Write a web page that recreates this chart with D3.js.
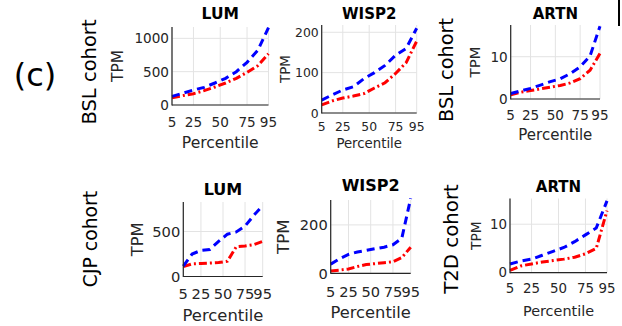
<!DOCTYPE html>
<html>
<head>
<meta charset="utf-8">
<script src="https://cdn.jsdelivr.net/npm/d3@7"></script>
<style>
  body { margin: 0; background: #fff; }
  svg text { font-family: "DejaVu Sans", sans-serif; }
</style>
</head>
<body>
<div id="chart"></div>
<script>
// percentiles sampled on the x axis
var percentiles = [5, 15, 25, 35, 45, 55, 65, 75, 85, 95];
var xTicks = [5, 25, 50, 75, 95];

// BSL cohort
var bslLumBlue   = [130, 175, 225, 265, 330, 400, 500, 640, 820, 1160];
var bslLumRed    = [110, 140, 170, 215, 270, 330, 400, 490, 590, 770];
var bslWisp2Blue = [32, 45, 57, 65, 85, 100, 118, 143, 160, 210];
var bslWisp2Red  = [20, 30, 37, 42, 48, 62, 75, 98, 125, 178];
var bslArtnBlue  = [1.3, 1.9, 2.5, 3.3, 4.1, 4.8, 6.0, 7.6, 10.2, 17.2];
var bslArtnRed   = [1.0, 1.6, 2.0, 2.4, 2.8, 3.2, 3.8, 4.8, 6.8, 10.8];

// CJP cohort
var cjpLumBlue   = [115, 250, 290, 300, 390, 470, 495, 560, 680, 790];
var cjpLumRed    = [110, 140, 145, 150, 155, 170, 330, 340, 355, 390];
var cjpWisp2Blue = [38, 60, 78, 88, 95, 102, 108, 118, 145, 310];
var cjpWisp2Red  = [10, 13, 18, 28, 36, 40, 44, 48, 65, 108];

// T2D cohort
var t2dArtnBlue  = [1.8, 2.4, 2.8, 3.6, 4.4, 5.2, 6.4, 7.8, 9.2, 14.8];
var t2dArtnRed   = [0.5, 1.4, 1.8, 2.2, 2.5, 2.8, 3.2, 3.9, 5.0, 12.8];

var width = 622, height = 326;

var svg = d3.select("#chart").append("svg")
  .attr("width", width)
  .attr("height", height);

// each subplot: data + where it sits (layout only)
var panels = [
  {title: "LUM", blue: bslLumBlue, red: bslLumRed, yMax: 1170, yTicks: [0, 500, 1000],
   box: {l: 172, r: 268.5, t: 27, b: 105},
   fs: {tick: 13.6, xl: 15.6, yl: 15.4, title: 15.5},
   pos: {xt: 121.7, xl: 143, yl: 118, ti: 14}},
  {title: "WISP2", blue: bslWisp2Blue, red: bslWisp2Red, yMax: 218, yTicks: [0, 100, 200],
   box: {l: 321.7, r: 416.7, t: 25, b: 113},
   fs: {tick: 12.4, xl: 13.3, yl: 13.5, title: 15},
   pos: {xt: 126, xl: 143, yl: 285, ti: 14}},
  {title: "ARTN", blue: bslArtnBlue, red: bslArtnRed, yMax: 17.5, yTicks: [0, 10],
   box: {l: 510.7, r: 600, t: 25, b: 99},
   fs: {tick: 13.6, xl: 15, yl: 14.9, title: 15},
   pos: {xt: 115, xl: 135, yl: 475, ti: 14}},
  {title: "LUM", blue: cjpLumBlue, red: cjpLumRed, yMax: 828, yTicks: [0, 500],
   box: {l: 183.3, r: 262.7, t: 202, b: 276.5},
   fs: {tick: 14.7, xl: 16.4, yl: 16.3, title: 16},
   pos: {xt: 293, xl: 315, yl: 137, ti: 189}},
  {title: "WISP2", blue: cjpWisp2Blue, red: cjpWisp2Red, yMax: 303, yTicks: [0, 200],
   box: {l: 330.7, r: 410.7, t: 200, b: 273.3},
   fs: {tick: 14.6, xl: 16.3, yl: 16.6, title: 16},
   pos: {xt: 291.7, xl: 312.7, yl: 283, ti: 185}},
  {title: "ARTN", blue: t2dArtnBlue, red: t2dArtnRed, yMax: 15.3, yTicks: [0, 10],
   box: {l: 510, r: 607, t: 198.5, b: 272.7},
   fs: {tick: 13.4, xl: 14.4, yl: 13.8, title: 15},
   pos: {xt: 288.3, xl: 310.7, yl: 476, ti: 186.7}}
];

panels.forEach(function(p) {
  var x = d3.scaleLinear().domain([5, 95]).range([p.box.l, p.box.r]);
  var y = d3.scaleLinear().domain([0, p.yMax]).range([p.box.b, p.box.t]);
  var g = svg.append("g");

  // grid
  g.selectAll(".gx").data(xTicks).enter().append("line")
    .attr("x1", function(d) { return x(d); }).attr("x2", function(d) { return x(d); })
    .attr("y1", p.box.t).attr("y2", p.box.b)
    .attr("stroke", "#e3e3e3").attr("stroke-width", 1);
  g.selectAll(".gy").data(p.yTicks).enter().append("line")
    .attr("x1", p.box.l).attr("x2", p.box.r)
    .attr("y1", function(d) { return y(d); }).attr("y2", function(d) { return y(d); })
    .attr("stroke", "#e3e3e3").attr("stroke-width", 1);

  // lines
  var line = function(vals) {
    return d3.line()
      .x(function(d, i) { return x(percentiles[i]); })
      .y(function(d) { return y(d); })(vals);
  };
  g.append("path").attr("d", line(p.red))
    .attr("fill", "none").attr("stroke", "#ff0000").attr("stroke-width", 3)
    .attr("stroke-dasharray", "8,3,2,3");
  g.append("path").attr("d", line(p.blue))
    .attr("fill", "none").attr("stroke", "#0000ff").attr("stroke-width", 3)
    .attr("stroke-dasharray", "8,5");

  // axes lines (box off)
  g.append("line").attr("x1", p.box.l).attr("x2", p.box.l)
    .attr("y1", p.box.t).attr("y2", p.box.b + 0.5)
    .attr("stroke", "#262626").attr("stroke-width", 1.2);
  g.append("line").attr("x1", p.box.l).attr("x2", p.box.r)
    .attr("y1", p.box.b).attr("y2", p.box.b)
    .attr("stroke", "#262626").attr("stroke-width", 1.2);

  // tick labels
  g.selectAll(".yt").data(p.yTicks).enter().append("text")
    .attr("x", p.box.l - 3).attr("y", function(d) { return y(d); })
    .attr("text-anchor", "end").attr("dominant-baseline", "central")
    .attr("font-size", p.fs.tick).attr("fill", "#262626")
    .text(function(d) { return d; });
  g.selectAll(".xt").data(xTicks).enter().append("text")
    .attr("x", function(d) { return x(d); }).attr("y", p.pos.xt)
    .attr("text-anchor", "middle").attr("dominant-baseline", "central")
    .attr("font-size", p.fs.tick).attr("fill", "#262626")
    .text(function(d) { return d; });

  // axis labels
  g.append("text").attr("x", (p.box.l + p.box.r) / 2).attr("y", p.pos.xl)
    .attr("text-anchor", "middle").attr("dominant-baseline", "central")
    .attr("font-size", p.fs.xl).attr("fill", "#262626").text("Percentile");
  g.append("text")
    .attr("transform", "translate(" + p.pos.yl + "," + (p.box.t + p.box.b) / 2 + ") rotate(-90)")
    .attr("text-anchor", "middle").attr("dominant-baseline", "central")
    .attr("font-size", p.fs.yl).attr("fill", "#262626").text("TPM");

  // title
  g.append("text").attr("x", (p.box.l + p.box.r) / 2).attr("y", p.pos.ti)
    .attr("text-anchor", "middle").attr("dominant-baseline", "central")
    .attr("font-size", p.fs.title).attr("font-weight", "bold").attr("fill", "#000")
    .text(p.title);
});

// cohort labels
var cohorts = [
  {text: "BSL cohort", x: 89, y: 72, fs: 19.5},
  {text: "BSL cohort", x: 446.5, y: 70, fs: 19.3},
  {text: "CJP cohort", x: 90, y: 239, fs: 18.8},
  {text: "T2D cohort", x: 451, y: 239, fs: 19.8}
];
svg.selectAll(".cohort").data(cohorts).enter().append("text")
  .attr("transform", function(d) { return "translate(" + d.x + "," + d.y + ") rotate(-90)"; })
  .attr("text-anchor", "middle").attr("dominant-baseline", "central")
  .attr("font-size", function(d) { return d.fs; }).attr("fill", "#000")
  .text(function(d) { return d.text; });

// panel letter
svg.append("text").attr("x", 35).attr("y", 75)
  .attr("text-anchor", "middle").attr("dominant-baseline", "central")
  .attr("font-size", 32).attr("fill", "#000").text("(c)");

// cut-off frame edge at top right
svg.append("line").attr("x1", 619).attr("x2", 619).attr("y1", 0).attr("y2", 26)
  .attr("stroke", "#000").attr("stroke-width", 2);
</script>
</body>
</html>
